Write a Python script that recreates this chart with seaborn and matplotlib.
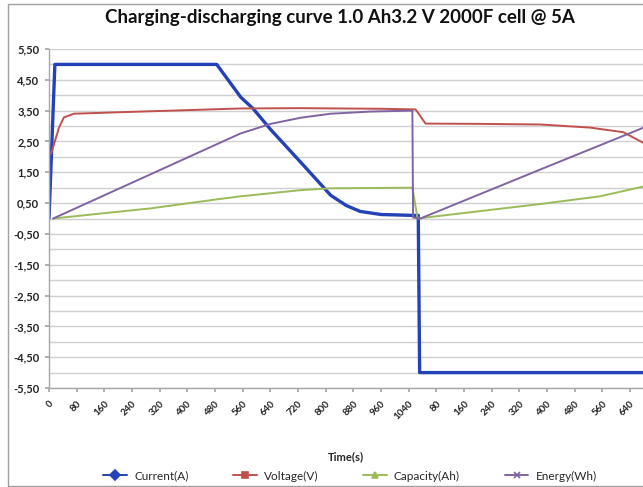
import matplotlib
matplotlib.use("Agg")
import matplotlib.pyplot as plt
import seaborn as sns
import pandas as pd
import numpy as np
from matplotlib.lines import Line2D
from matplotlib.patches import Rectangle

# ---------------- data ----------------
title = "Charging-discharging curve 1.0 Ah3.2 V 2000F cell @ 5A"
x_label = "Time(s)"
series_names = ["Current(A)", "Voltage(V)", "Capacity(Ah)", "Energy(Wh)"]
series_colors = ["#2442B8", "#C0504D", "#9BBB59", "#8064A2"]
series_markers = ["D", "s", "^", "x"]
series_widths = [2.4, 1.4, 1.4, 1.4]

# elapsed time (s) and values for each series
current_t = [0, 17, 485, 555, 590, 640, 730, 815, 860, 900, 960, 1055, 1068, 1072, 1720]
current_v = [0.0, 5.0, 5.0, 3.93, 3.57, 2.9, 1.8, 0.75, 0.42, 0.23, 0.13, 0.1, 0.1, -5.0, -5.0]

voltage_t = [6, 29, 43, 72, 266, 554, 728, 959, 1060, 1066, 1089, 1248, 1421, 1565, 1661, 1720]
voltage_v = [2.1, 2.95, 3.28, 3.4, 3.47, 3.57, 3.58, 3.56, 3.54, 3.45, 3.08, 3.07, 3.05, 2.95, 2.8, 2.45]

capacity_t = [12, 295, 485, 554, 728, 815, 1051, 1066, 1421, 1594, 1720]
capacity_v = [0.0, 0.33, 0.62, 0.72, 0.92, 0.98, 1.0, 0.0, 0.47, 0.72, 1.04]

energy_t = [12, 554, 641, 728, 815, 930, 1051, 1053, 1074, 1421, 1720]
energy_v = [0.0, 2.76, 3.07, 3.27, 3.4, 3.47, 3.5, 0.03, 0.0, 1.59, 2.95]

x_tick_labels = ["0", "80", "160", "240", "320", "400", "480", "560", "640", "720",
                 "800", "880", "960", "1040",
                 "80", "160", "240", "320", "400", "480", "560", "640"]
x_tick_step = 80
x_max = 1718
y_min, y_max = -5.5, 5.5

# ---------------- figure ----------------
sns.set_theme(style="white")
plt.rcParams["font.family"] = ["Lato", "DejaVu Sans"]

fig = plt.figure(figsize=(6.43, 4.87), dpi=100)
ax = fig.add_axes([49 / 643, 1 - 388 / 487, 1 - 49 / 643, (388 - 49) / 487])

frames = []
for name, t, v in zip(series_names,
                      [current_t, voltage_t, capacity_t, energy_t],
                      [current_v, voltage_v, capacity_v, energy_v]):
    frames.append(pd.DataFrame({"t": t, "value": v, "series": name}))
df = pd.concat(frames, ignore_index=True)

for name, color, lw in zip(series_names, series_colors, series_widths):
    sub = df[df["series"] == name]
    sns.lineplot(data=sub, x="t", y="value", color=color, linewidth=lw,
                 sort=False, estimator=None, ax=ax, legend=False)

ax.set_xlim(0, x_max)
ax.set_ylim(y_min, y_max)

# gridlines every 0.5, labels every 1
ax.set_yticks(np.arange(y_min, y_max + 0.01, 1.0))
ax.set_yticks(np.arange(y_min, y_max + 0.01, 0.5), minor=True)
ax.set_yticklabels([f"{v:.2f}".replace(".", ",") for v in np.arange(y_min, y_max + 0.01, 1.0)],
                   fontsize=8, fontweight="bold", color="#222222")
ax.grid(True, which="both", axis="y", color="#D0D0D0", linewidth=1.0)
ax.grid(False, axis="x")
ax.set_axisbelow(True)

xt = np.arange(len(x_tick_labels)) * x_tick_step
ax.set_xticks(xt)
ax.set_xticklabels(x_tick_labels, rotation=45, ha="right", rotation_mode="anchor",
                   fontsize=7, fontweight="bold", color="#222222")
ax.tick_params(axis="x", which="major", length=3, color="#A6A6A6", pad=5, bottom=True)
ax.tick_params(axis="y", which="major", length=3, color="#A6A6A6", pad=4, left=True)
ax.tick_params(axis="y", which="minor", length=0)

for s in ["top", "right"]:
    ax.spines[s].set_visible(False)
for s in ["left", "bottom"]:
    ax.spines[s].set_color("#A6A6A6")
    ax.spines[s].set_linewidth(1.0)

ax.set_xlabel(x_label, fontsize=8, fontweight="bold")
ax.xaxis.set_label_coords(0.5, -0.185)
ax.set_ylabel("")

fig.text(340 / 643, 1 - 18 / 487, title, ha="center", va="center",
         fontsize=13.5, fontweight="bold", color="#111111")

handles = [Line2D([0], [0], color=c, marker=m, markersize=5, linewidth=1.4,
                  markeredgewidth=1.2)
           for c, m in zip(series_colors, series_markers)]
fig.legend(handles, series_names, loc="center", bbox_to_anchor=(350 / 643, 1 - 476 / 487),
           ncol=4, frameon=False, fontsize=8.5, handlelength=2.0, columnspacing=3.8,
           handletextpad=0.6)

fig.patches.append(Rectangle((8 / 643, 1 / 487), 1.0, (486 - 4) / 487,
                             transform=fig.transFigure, fill=False,
                             edgecolor="#A0A0A0", linewidth=1.0))

fig.savefig("out.png", dpi=100)
